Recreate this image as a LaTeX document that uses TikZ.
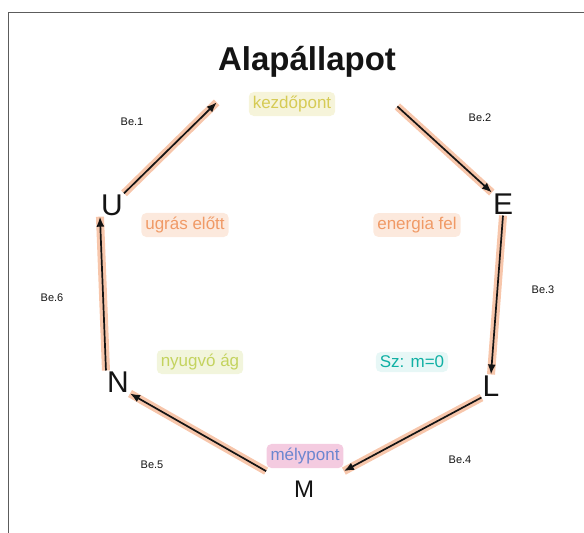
\documentclass[tikz,border=0pt]{standalone}
\usepackage{fontspec}
\setmainfont{Liberation Sans}
\usetikzlibrary{arrows.meta,fit}
\definecolor{ink}{HTML}{141414}
\definecolor{framegray}{HTML}{5C5C5C}
\definecolor{glowpeach}{HTML}{F7C6AB}
\definecolor{subyellow}{HTML}{D6CB55}
\definecolor{suborange}{HTML}{F09A66}
\definecolor{sublime}{HTML}{C4D35F}
\definecolor{subteal}{HTML}{10B0A4}
\definecolor{subpink}{HTML}{F4CBE0}
\definecolor{subblue}{HTML}{6C86CF}

\begin{document}
\begin{tikzpicture}[
  x=1pt, y=-1pt,
  >=Latex,
  state/.style={font=\fontsize{30}{32}\selectfont, text=ink, inner sep=1pt},
  title/.style={font=\fontsize{33}{35}\selectfont\bfseries, text=ink, inner sep=1pt},
  sub/.style={font=\fontsize{17}{19}\selectfont, rounded corners=5pt, inner sep=4pt},
  tag/.style={font=\fontsize{11}{13}\selectfont, text=ink, inner sep=1pt},
  cycle/.style={->, draw=ink, line width=1.7pt,
    preaction={draw=glowpeach, line width=8pt, -}},
  tip/.style={-{Latex[length=10pt,width=8pt]}}
]
\useasboundingbox (0,0) rectangle (584,533);
\draw[framegray, line width=1pt] (8,533) -- (8,12) -- (584,12);

% states
\node[title] (alap) at (307,62) {Alapállapot};
\node[sub, fill=subyellow!22, text=subyellow] (alapsub) at (292,104) {kezdőpont};
\node[fit=(alap)(alapsub), inner sep=0pt] (alapgrp) {};

\node[state] (E) at (503,204) {E};
\node[state] (L) at (491,386) {L};
\node[state] (N) at (118,382) {N};
\node[state] (U) at (112,205) {U};

\node[sub, fill=subpink, text=subblue] (msub) at (305,456) {mélypont};
\node[state, font=\fontsize{24}{26}\selectfont] (M) at (304,489) {M};
\node[fit=(msub)(M), inner sep=0pt] (mgrp) {};

% inner labels
\node[sub, fill=suborange!22, text=suborange] (usub) at (185,225) {ugrás előtt};
\node[sub, fill=suborange!22, text=suborange] (esub) at (417,225) {energia fel};
\node[sub, fill=sublime!22, text=sublime] (nsub) at (200,362) {nyugvó ág};
\node[sub, fill=subteal!10, text=subteal] (lsub) at (412,362) {Sz: m=0};

% cycle
\draw[cycle, tip] (U.north east) -- ([yshift=14pt]alapgrp.south west);
\draw[cycle, tip] ([yshift=10pt]alapgrp.south east) -- (E.north west);
\draw[cycle, tip] (E.south) -- (L.north);
\draw[cycle, tip] (L.south west) -- (mgrp.east);
\draw[cycle, tip] (mgrp.west) -- (N.south east);
\draw[cycle, tip] (N.north west) -- (U.south west);

% edge tags
\node[tag] (t1) at (132,122) {Be.1};
\node[tag] (t2) at (480,118) {Be.2};
\node[tag] (t3) at (543,290) {Be.3};
\node[tag] (t4) at (460,460) {Be.4};
\node[tag] (t5) at (152,465) {Be.5};
\node[tag] (t6) at (52,298) {Be.6};
\end{tikzpicture}
\end{document}
